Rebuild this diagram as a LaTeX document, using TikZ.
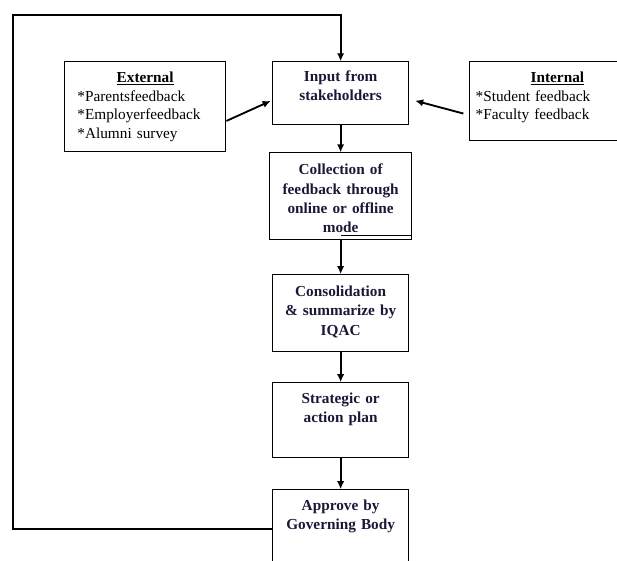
\documentclass[tikz,border=0pt]{standalone}
\usepackage{fontspec}
\setmainfont{Liberation Serif}
\usepackage{xcolor}
\usepackage{tikz}
\usetikzlibrary{arrows.meta}

\definecolor{navytext}{RGB}{25,25,55}

\begin{document}
\begin{tikzpicture}[
        flowbox/.style={draw, line width=0.8pt, anchor=north, align=center, inner xsep=3pt, inner ysep=0pt,
            font=\fontsize{11.5}{14.5}\selectfont\bfseries, text=navytext},
        listbox/.style={draw, line width=0.8pt, align=left, inner ysep=0pt,
            font=\fontsize{11.5}{14}\selectfont},
        flowarrow/.style={-{Latex[length=6pt, width=5.5pt]}, line width=1.4pt}
    ]
        \useasboundingbox (0.0, 0.0) rectangle (16.32, 14.82); % page
        \clip (0.0, 0.0) rectangle (16.32, 14.82);

        % main column
        \node [flowbox, text width=96.75pt, text height=15pt, text depth=32.25pt] (input) at (9.01, 13.20) {Input from\\stakeholders};
        \node [flowbox, text width=100.5pt, text height=16.5pt, text depth=48.75pt] (collection) at (9.01, 10.79) {Collection of\\feedback through\\online or offline\\mode};
        \node [flowbox, text width=96.75pt, text height=16.5pt, text depth=41.25pt] (consolidation) at (9.01, 7.57) {Consolidation\\\& summarize by\\IQAC};
        \node [flowbox, text width=96.75pt, text height=15.75pt, text depth=40.5pt] (strategic) at (9.01, 4.71) {Strategic or\\action plan};
        \node [flowbox, text width=96.75pt, text height=15.75pt, text depth=42.75pt] (approve) at (9.01, 1.88) {Approve by\\Governing Body};

        % side boxes
        \node [listbox, anchor=north, text width=102pt, inner xsep=9.75pt, text height=15.75pt, text depth=51.75pt] (external) at (3.84, 13.20)
            {\makebox[\linewidth][c]{\underline{\textbf{External}}}\\ {*}Parentsfeedback\\ {*}Employerfeedback\\ {*}Alumni survey};
        \node [listbox, anchor=north west, text width=123pt, inner xsep=4.5pt, text height=15.75pt, text depth=43.5pt] (internal) at (12.41, 13.20)
            {\makebox[\linewidth][c]{\underline{\textbf{Internal}}}\\ {*}Student feedback\\ {*}Faculty feedback};

        \draw [line width=0.6pt] ([yshift=3.75pt]collection.south east) -- ([yshift=3.75pt]collection.south); % stray rule under mode

        % connectors
        \draw [flowarrow] (input) -- (collection);
        \draw [flowarrow] (collection) -- (consolidation);
        \draw [flowarrow] (consolidation) -- (strategic);
        \draw [flowarrow] (strategic) -- (approve);
        \draw [flowarrow, shorten >=1pt] (external.-10) -- (input.186);
        \draw [flowarrow, shorten <=4.5pt, shorten >=4.5pt] (internal.189) -- (input.-5);

        \coordinate (corner) at (0.34, 14.42); % feedback loop, top left
        \draw [flowarrow] (approve.west) -| (corner) -| (input.north);
    \end{tikzpicture}
\end{document}
